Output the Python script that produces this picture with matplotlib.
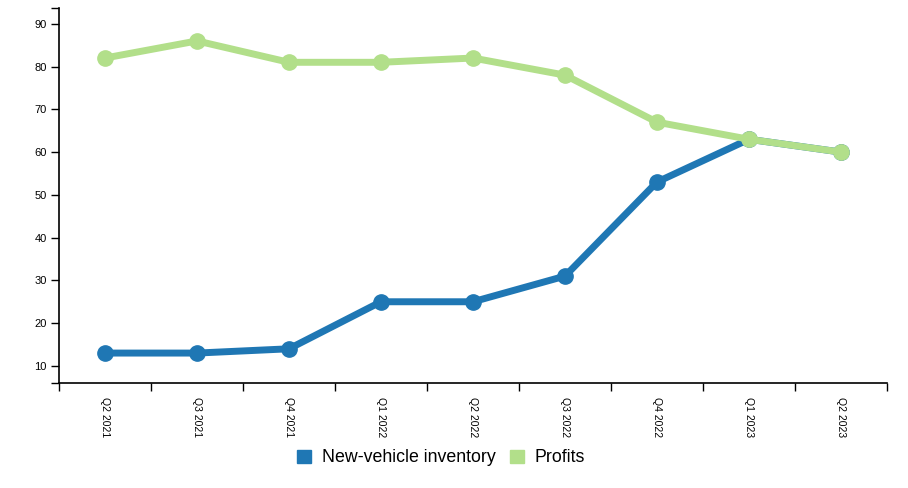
import matplotlib
matplotlib.use("Agg")
import matplotlib.pyplot as plt
from matplotlib.patches import Patch
import numpy as np

quarters = ["Q2 2021", "Q3 2021", "Q4 2021", "Q1 2022", "Q2 2022",
            "Q3 2022", "Q4 2022", "Q1 2023", "Q2 2023"]
inventory = [13, 13, 14, 25, 25, 31, 53, 63, 60]
profits = [82, 86, 81, 81, 82, 78, 67, 63, 60]

plt.rcParams['font.family'] = ['Liberation Sans', 'DejaVu Sans']

fig = plt.figure(figsize=(9.08, 4.88), dpi=100)
ax = fig.add_axes([59/908, 1-383/488, (887-59)/908, (383-8)/488])

x = np.arange(len(quarters))
blue = "#1f77b4"
green = "#b2df8a"
ax.plot(x, inventory, color=blue, lw=5, marker="o", ms=11, zorder=3, solid_capstyle="butt")
ax.plot(x, profits, color=green, lw=5, marker="o", ms=11, zorder=4, solid_capstyle="butt")

ax.set_xlim(-0.5, len(quarters) - 0.5)
ax.set_ylim(6, 93.7)

for s in ["top", "right"]:
    ax.spines[s].set_visible(False)
for s in ["left", "bottom"]:
    ax.spines[s].set_linewidth(1.2)
    ax.spines[s].set_color("black")

# y ticks
ax.set_yticks(list(range(10, 91, 10)) + [6, 93.7])
ax.set_yticklabels([str(v) for v in range(10, 91, 10)] + ["", ""])
ax.tick_params(axis="y", length=6, width=1, labelsize=8, pad=3)

# x boundary ticks (major) and labels at centers (minor)
ax.set_xticks(np.arange(len(quarters) + 1) - 0.5)
ax.set_xticklabels([""] * (len(quarters) + 1))
ax.tick_params(axis="x", which="major", length=6, width=1)
ax.set_xticks(x, minor=True)
ax.set_xticklabels(quarters, minor=True, rotation=-90, fontsize=7.5)
ax.tick_params(axis="x", which="minor", length=0, pad=10)

handles = [Patch(color=blue, label="New-vehicle inventory"),
           Patch(color=green, label="Profits")]
fig.legend(handles=handles, loc="center", bbox_to_anchor=(441/908, 1-458/488),
           ncol=2, frameon=False, fontsize=12.8, handlelength=0.8, handleheight=0.8,
           handletextpad=0.6, columnspacing=0.8)

fig.savefig("out.png", dpi=100)
